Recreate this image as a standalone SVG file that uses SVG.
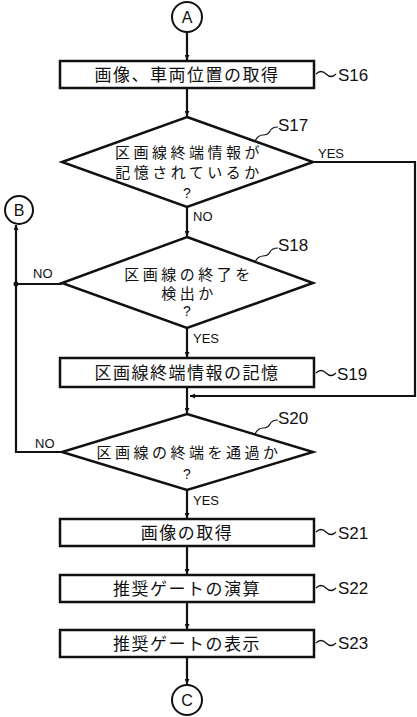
<svg xmlns="http://www.w3.org/2000/svg" width="417" height="717" viewBox="0 0 417 717">
<defs>
<marker id="ah" viewBox="0 0 10 10" refX="10" refY="5" markerWidth="5" markerHeight="5" orient="auto" markerUnits="userSpaceOnUse">
<path d="M0,0 L10,5 L0,10 z" fill="#111"/>
</marker>
<style>
.box{fill:#fff;stroke:#111;stroke-width:2.5}
.dia{fill:#fff;stroke:#111;stroke-width:2.5}
.circ{fill:#fff;stroke:#111;stroke-width:2}
.ln{fill:none;stroke:#111;stroke-width:2.2}
.arr{fill:none;stroke:#111;stroke-width:2.2;marker-end:url(#ah)}
.sq{fill:none;stroke:#111;stroke-width:1.2}
.jp{font-family:"Noto Sans CJK JP","Liberation Sans",sans-serif;font-size:17px;fill:#111;text-anchor:middle;letter-spacing:1.5px}
.jd{font-family:"Noto Sans CJK JP","Liberation Sans",sans-serif;font-size:15px;fill:#111;text-anchor:middle;letter-spacing:3.5px}
.q{font-family:"Liberation Sans",Arial,sans-serif;font-size:14px;fill:#111;text-anchor:middle}
.lb{font-family:"Liberation Sans",Arial,sans-serif;font-size:17px;fill:#111}
.yn{font-family:"Liberation Sans",Arial,sans-serif;font-size:13px;fill:#111}
.cl{font-family:"Liberation Sans",Arial,sans-serif;font-size:16px;fill:#111;text-anchor:middle}
</style>
</defs>
<g id="connectors">
<line class="arr" x1="187" y1="32" x2="187" y2="60"/>
<line class="arr" x1="187" y1="88" x2="187" y2="116"/>
<line class="arr" x1="187" y1="207" x2="187" y2="236"/>
<line class="arr" x1="187" y1="328" x2="187" y2="357"/>
<line class="arr" x1="187" y1="387" x2="187" y2="413"/>
<polyline class="arr" points="313,162 415,162 415,396 190,396"/>
<polyline class="ln" points="62,452 16,452 16,284"/>
<polyline class="arr" points="62,284 16,284 16,225"/>
<circle cx="16" cy="284" r="2.5" fill="#111"/>
<line class="arr" x1="187" y1="490" x2="187" y2="518"/>
<line class="arr" x1="187" y1="546" x2="187" y2="574"/>
<line class="arr" x1="187" y1="602" x2="187" y2="629"/>
<line class="arr" x1="187" y1="657" x2="187" y2="684"/>
<text class="yn" x="318" y="158">YES</text>
<text class="yn" x="193" y="221">NO</text>
<text class="yn" x="33" y="278">NO</text>
<text class="yn" x="193" y="343">YES</text>
<text class="yn" x="35" y="448">NO</text>
<text class="yn" x="193" y="505">YES</text>
</g>
<g id="A">
<circle class="circ" cx="187" cy="17" r="15"/>
<text class="cl" x="187" y="23">A</text>
</g>
<g id="B">
<circle class="circ" cx="19" cy="210" r="14"/>
<text class="cl" x="19" y="216">B</text>
</g>
<g id="C">
<circle class="circ" cx="187" cy="700" r="15"/>
<text class="cl" x="187" y="706">C</text>
</g>
<g id="S16">
<rect class="box" x="60" y="61" width="254" height="27"/>
<text class="jp" x="187" y="81">画像、車両位置の取得</text>
<path class="sq" d="M316,74 q5,-5 10,0 t10,0"/>
<text class="lb" x="338" y="81">S16</text>
</g>
<g id="S17">
<polygon class="dia" points="187,117 313,162 187,207 62,162"/>
<text class="jd" x="189" y="158">区画線終端情報が</text>
<text class="jd" x="189" y="178">記憶されているか</text>
<text class="q" x="187" y="198">?</text>
<path class="sq" d="M255,141 q3,-6 8,-6 q5,0 7,-4 q2,-4 8,-4"/>
<text class="lb" x="278" y="131">S17</text>
</g>
<g id="S18">
<polygon class="dia" points="187,237 313,283 187,328 62,283"/>
<text class="jd" x="189" y="280">区画線の終了を</text>
<text class="jd" x="189" y="299">検出か</text>
<text class="q" x="187" y="316">?</text>
<path class="sq" d="M255,262 q3,-6 8,-6 q5,0 7,-4 q2,-4 8,-4"/>
<text class="lb" x="278" y="251">S18</text>
</g>
<g id="S19">
<rect class="box" x="60" y="358" width="254" height="29"/>
<text class="jp" x="187" y="379">区画線終端情報の記憶</text>
<path class="sq" d="M316,373 q5,-5 10,0 t10,0"/>
<text class="lb" x="337" y="380">S19</text>
</g>
<g id="S20">
<polygon class="dia" points="187,414 313,452 187,490 62,452"/>
<text class="jd" x="189" y="458">区画線の終端を通過か</text>
<text class="q" x="187" y="479">?</text>
<path class="sq" d="M255,434 q3,-6 8,-6 q5,0 7,-4 q2,-4 8,-4"/>
<text class="lb" x="278" y="424">S20</text>
</g>
<g id="S21">
<rect class="box" x="60" y="519" width="254" height="27"/>
<text class="jp" x="187" y="539">画像の取得</text>
<path class="sq" d="M316,532 q5,-5 10,0 t10,0"/>
<text class="lb" x="338" y="539">S21</text>
</g>
<g id="S22">
<rect class="box" x="60" y="575" width="254" height="27"/>
<text class="jp" x="187" y="595">推奨ゲートの演算</text>
<path class="sq" d="M316,588 q5,-5 10,0 t10,0"/>
<text class="lb" x="338" y="594">S22</text>
</g>
<g id="S23">
<rect class="box" x="60" y="630" width="254" height="27"/>
<text class="jp" x="187" y="650">推奨ゲートの表示</text>
<path class="sq" d="M316,643 q5,-5 10,0 t10,0"/>
<text class="lb" x="338" y="649">S23</text>
</g>
</svg>
